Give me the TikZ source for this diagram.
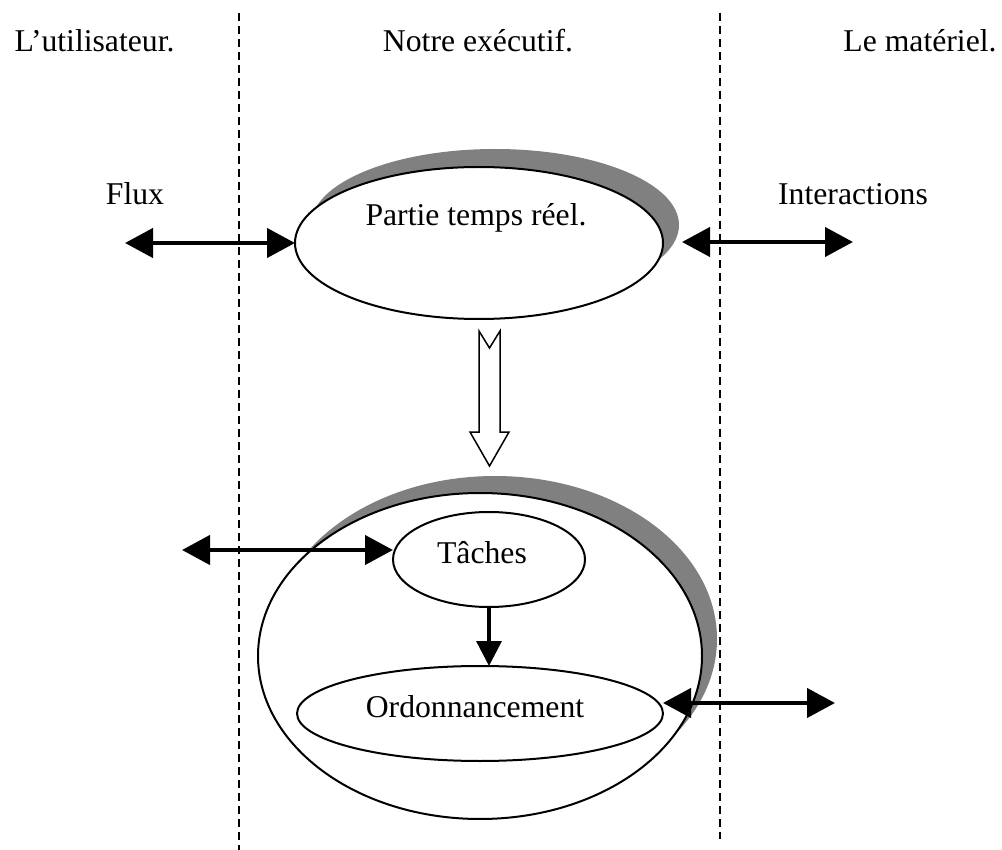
\documentclass[tikz,border=0pt]{standalone}
\usepackage{fontspec}
\setmainfont{Liberation Serif}
\usetikzlibrary{arrows.meta,shapes.geometric,shadows}

\begin{document}
\begin{tikzpicture}[x=1pt,y=-1pt,
  every node/.style={font=\fontsize{31.7pt}{38pt}\selectfont, inner sep=0pt, outer sep=0pt},
  lbl/.style={anchor=base},
  oval/.style={ellipse, draw, line width=2pt, fill=white},
  shadowed/.style 2 args={drop shadow={shadow xshift=#1, shadow yshift=#2, fill=gray, opacity=1}},
  border/.style={line width=1.4pt, dash pattern=on 8pt off 5pt},
  dbl/.style={line width=4.2pt, {Triangle[length=28pt,width=29pt]}-{Triangle[length=28pt,width=29pt]}},
  one/.style={line width=3.4pt, -{Triangle[length=25pt,width=25pt]}},
  hollow/.style={line width=1.5pt, fill=white, line join=miter}
]
% canvas
\useasboundingbox (0,0) rectangle (1002,850);
\fill[white] (0,0) rectangle (1002,850);

% column separators
\coordinate (sepLtop) at (239,13);
\coordinate (sepLbot) at (239,850);
\coordinate (sepRtop) at (720,13);
\coordinate (sepRbot) at (720,839);
\draw[border] (sepLtop) -- (sepLbot);
\draw[border] (sepRtop) -- (sepRbot);

% column headings
\node[lbl] (huser) at (94.5,52) {L’utilisateur.};
\node[lbl] (hexec) at (478,52) {Notre exécutif.};
\node[lbl] (hhw)   at (920,52) {Le matériel.};

% real-time part
\node[oval, shadowed={16pt}{18pt}, minimum width=368pt, minimum height=152pt] (partie) at (479,243) {};
\node[lbl] (partieT) at (476,226) {Partie temps réel.};

\node[lbl] (flux)  at (135,205) {Flux};
\node[lbl] (inter) at (853,205) {Interactions};

\coordinate (fluxEnd)  at (125,243);
\coordinate (interEnd) at (853,242);
\draw[dbl] (fluxEnd) -- (partie.west);
\draw[dbl] ([xshift=19pt]partie.east |- interEnd) -- (interEnd);

% hollow block arrow between the two parts
\draw[hollow] (479,331) -- (489.5,348) -- (500,331) -- (500,432) -- (509,432)
  -- (489.5,466) -- (470,432) -- (479,432) -- cycle;

% kernel: tasks and scheduling
\node[oval, shadowed={15pt}{17pt}, minimum width=444pt, minimum height=326pt] (noyau) at (480,656) {};
\node[oval, minimum width=192pt, minimum height=95pt] (tache) at (489,559.5) {};
\node[lbl] (tacheT) at (482,563) {Tâches};
\node[oval, minimum width=366pt, minimum height=95pt] (ord) at (480,713.5) {};
\node[lbl] (ordT) at (475,717) {Ordonnancement};

\coordinate (tacheEnd) at (182,550);
\draw[dbl] (tacheEnd) -- (tacheEnd -| tache.west);
\draw[one] (tache.south) -- (tache.south |- ord.north);
\coordinate (ordEnd) at (835,703);
\draw[dbl] (ordEnd -| ord.east) -- (ordEnd);
\end{tikzpicture}
\end{document}
